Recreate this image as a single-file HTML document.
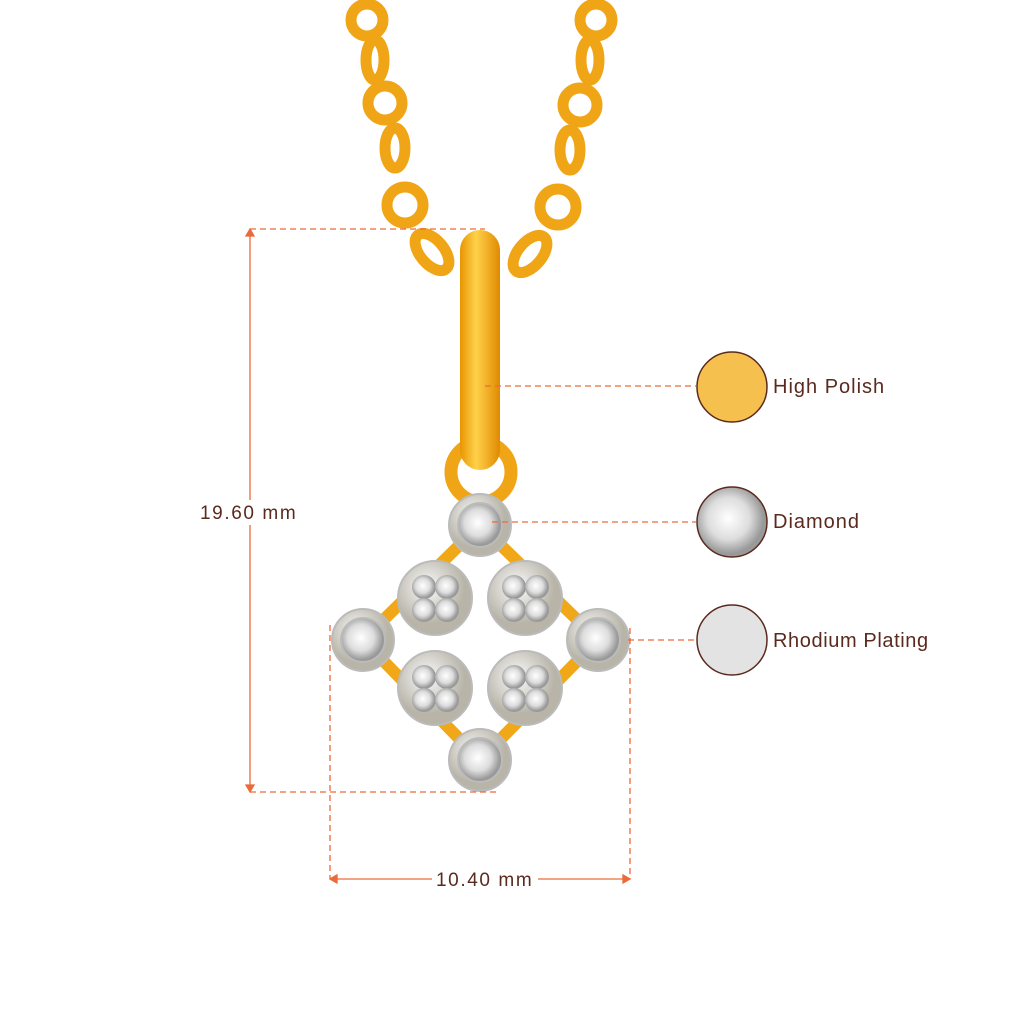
<!DOCTYPE html><html><head><style>body{margin:0;background:#fff}svg{display:block}text{font-family:"Liberation Sans",sans-serif;fill:#5a2a1e}</style></head><body>
<svg width="1024" height="1024" viewBox="0 0 1024 1024" xmlns="http://www.w3.org/2000/svg">
<defs>
<radialGradient id="dia" cx="45%" cy="45%"><stop offset="0" stop-color="#fff"/><stop offset=".6" stop-color="#ddd"/><stop offset="1" stop-color="#999"/></radialGradient>
<linearGradient id="bail" x1="0" x2="1"><stop offset="0" stop-color="#e89500"/><stop offset=".4" stop-color="#ffd24a"/><stop offset="1" stop-color="#e08a00"/></linearGradient>
<radialGradient id="silver" cx="40%" cy="35%"><stop offset="0" stop-color="#fafafa"/><stop offset="1" stop-color="#b8b4a8"/></radialGradient>
</defs>
<g fill="none" stroke="#f0a516" stroke-width="11">
<circle cx="367" cy="20" r="16"/><ellipse cx="375" cy="60" rx="9" ry="20"/><circle cx="385" cy="103" r="17"/><ellipse cx="395" cy="148" rx="10" ry="20"/><circle cx="405" cy="205" r="18"/><ellipse cx="432" cy="252" rx="12" ry="22" transform="rotate(-40 432 252)"/>
<circle cx="596" cy="20" r="16"/><ellipse cx="590" cy="60" rx="9" ry="20"/><circle cx="580" cy="105" r="17"/><ellipse cx="570" cy="150" rx="10" ry="20"/><circle cx="558" cy="207" r="18"/><ellipse cx="530" cy="254" rx="12" ry="22" transform="rotate(40 530 254)"/>
</g>
<circle cx="481" cy="472" r="30" fill="none" stroke="#f0a516" stroke-width="13"/>
<rect x="460" y="230" width="40" height="240" rx="20" fill="url(#bail)"/>
<g stroke="#f0a818" stroke-width="12">
<line x1="480" y1="525" x2="363" y2="640"/><line x1="480" y1="525" x2="598" y2="640"/><line x1="363" y1="640" x2="480" y2="760"/><line x1="598" y1="640" x2="480" y2="760"/></g>
<g stroke="#bbb" stroke-width="2">
<circle cx="435" cy="598" r="37" fill="url(#silver)"/><circle cx="525" cy="598" r="37" fill="url(#silver)"/><circle cx="435" cy="688" r="37" fill="url(#silver)"/><circle cx="525" cy="688" r="37" fill="url(#silver)"/>
<circle cx="480" cy="525" r="31" fill="url(#silver)"/><circle cx="363" cy="640" r="31" fill="url(#silver)"/><circle cx="598" cy="640" r="31" fill="url(#silver)"/><circle cx="480" cy="760" r="31" fill="url(#silver)"/>
<circle cx="480" cy="525" r="22" fill="url(#dia)"/><circle cx="363" cy="640" r="22" fill="url(#dia)"/><circle cx="598" cy="640" r="22" fill="url(#dia)"/><circle cx="480" cy="760" r="22" fill="url(#dia)"/>
</g>
<g fill="url(#dia)"><circle cx="424" cy="587" r="12"/><circle cx="447" cy="587" r="12"/><circle cx="424" cy="610" r="12"/><circle cx="447" cy="610" r="12"/>
<circle cx="514" cy="587" r="12"/><circle cx="537" cy="587" r="12"/><circle cx="514" cy="610" r="12"/><circle cx="537" cy="610" r="12"/>
<circle cx="424" cy="677" r="12"/><circle cx="447" cy="677" r="12"/><circle cx="424" cy="700" r="12"/><circle cx="447" cy="700" r="12"/>
<circle cx="514" cy="677" r="12"/><circle cx="537" cy="677" r="12"/><circle cx="514" cy="700" r="12"/><circle cx="537" cy="700" r="12"/></g>
<g stroke="#ec6a3a" stroke-width="1.3" stroke-dasharray="6 4" fill="none">
<line x1="250" y1="229" x2="485" y2="229"/><line x1="250" y1="792" x2="497" y2="792"/>
<line x1="330" y1="625" x2="330" y2="879"/><line x1="630" y1="628" x2="630" y2="879"/>
<line x1="485" y1="386" x2="696" y2="386"/><line x1="492" y1="522" x2="696" y2="522"/><line x1="628" y1="640" x2="696" y2="640"/>
</g>
<g stroke="#ec6a3a" stroke-width="1.3" fill="#ec6a3a">
<line x1="250" y1="231" x2="250" y2="500"/><line x1="250" y1="525" x2="250" y2="790"/>
<line x1="332" y1="879" x2="432" y2="879"/><line x1="538" y1="879" x2="628" y2="879"/>
<path d="M246 236L250 229L254 236Z M246 785L250 792L254 785Z M337 875L330 879L337 883Z M623 875L630 879L623 883Z"/>
</g>
<text x="200" y="519" font-size="19" letter-spacing="1.6">19.60 mm</text>
<text x="436" y="886" font-size="19" letter-spacing="1.6">10.40 mm</text>
<circle cx="732" cy="387" r="35" fill="#f5c04e" stroke="#5a2a1e" stroke-width="1.5"/>
<circle cx="732" cy="522" r="35" fill="url(#dia)" stroke="#5a2a1e" stroke-width="1.5"/>
<circle cx="732" cy="640" r="35" fill="#e3e3e3" stroke="#5a2a1e" stroke-width="1.5"/>
<text x="773" y="393" font-size="20" letter-spacing="1">High Polish</text>
<text x="773" y="528" font-size="20" letter-spacing="1">Diamond</text>
<text x="773" y="647" font-size="20" letter-spacing="0.6">Rhodium Plating</text>
</svg></body></html>
